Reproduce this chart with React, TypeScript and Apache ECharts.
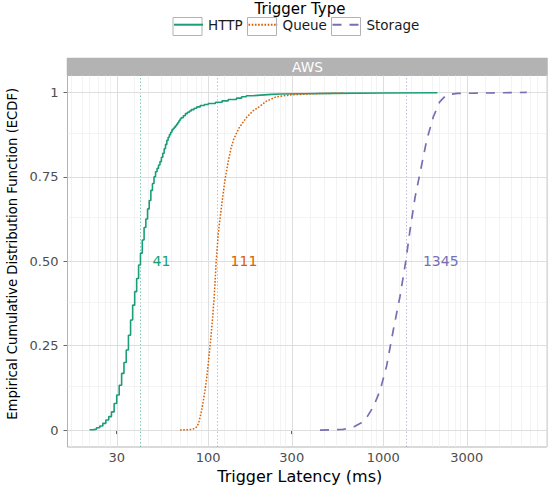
import React, { useEffect, useRef } from "react";
import * as echarts from "echarts";

const FONT = "DejaVu Sans";

const seriesNames = ["HTTP", "Queue", "Storage"];
const seriesColors = ["#1B9E77", "#D95F02", "#7570B3"];
const medianLineColors = ["rgba(27,158,119,0.55)", "rgba(217,95,2,0.45)", "rgba(117,112,179,0.45)"];

// HTTP trigger latency (ms) and ECDF
const httpLatency = [
  21, 22, 23, 24, 25, 26, 27, 28, 29, 30, 31, 32, 33, 34, 35, 36, 37, 38, 39, 40,
  41, 42, 43, 44, 45, 46, 47, 48, 49, 50, 51, 52, 53, 54, 55, 56, 57, 58, 59, 60,
  61, 62, 63, 64, 65, 66, 67, 68, 69, 70, 72, 74, 76, 78, 80, 83, 86, 90, 95, 100,
  110, 120, 130, 145, 155, 165, 180, 200, 230, 260, 350, 500, 1000, 2040,
];
const httpEcdf = [
  0.001, 0.003, 0.007, 0.012, 0.02, 0.03, 0.04, 0.054, 0.079, 0.104, 0.133, 0.168, 0.2, 0.237, 0.281, 0.326, 0.37, 0.41, 0.449, 0.489,
  0.524, 0.563, 0.6, 0.625, 0.655, 0.68, 0.71, 0.73, 0.75, 0.765, 0.775, 0.785, 0.795, 0.808, 0.82, 0.833, 0.846, 0.858, 0.867, 0.875,
  0.882, 0.889, 0.893, 0.897, 0.901, 0.906, 0.911, 0.916, 0.921, 0.925, 0.931, 0.937, 0.941, 0.945, 0.949, 0.953, 0.957, 0.961, 0.964, 0.967,
  0.971, 0.975, 0.979, 0.983, 0.987, 0.99, 0.992, 0.994, 0.995, 0.996, 0.997, 0.998, 0.999, 1,
];

// Queue trigger latency (ms) and ECDF
const queueLatency = [
  69, 80, 84, 86, 88, 90, 92, 94, 96, 98, 100, 102, 104, 106, 108, 110, 111, 112, 114, 116,
  119, 122, 125, 130, 135, 140, 150, 165, 180, 195, 215, 245, 300, 400, 600,
];
const queueEcdf = [
  0, 0.002, 0.005, 0.01, 0.02, 0.04, 0.062, 0.09, 0.12, 0.155, 0.197, 0.24, 0.285, 0.335, 0.39, 0.46, 0.5, 0.525, 0.58, 0.615,
  0.66, 0.705, 0.745, 0.795, 0.835, 0.862, 0.895, 0.925, 0.945, 0.957, 0.974, 0.987, 0.993, 0.996, 0.998,
];

// Storage trigger latency (ms) and ECDF
const storageLatency = [
  435, 590, 680, 750, 810, 880, 960, 1045, 1140, 1245, 1345, 1420, 1520, 1620, 1770, 1930, 2100, 2300, 2650, 6600,
];
const storageEcdf = [
  0, 0.002, 0.01, 0.022, 0.04, 0.07, 0.118, 0.19, 0.295, 0.395, 0.5, 0.59, 0.69, 0.76, 0.858, 0.927, 0.972, 0.993, 0.997, 1,
];

const medians = [41, 111, 1345];
const medianLabelX = [54, 160, 2130];
const medianLabelY = 0.5;

const xTicks = [30, 100, 300, 1000, 3000];
const xTickLabels = ["30", "100", "300", "1000", "3000"];
// break sequence used for the minor grid (8 evenly spaced minor lines between consecutive breaks)
const xGridBreaks = [10, 30, 100, 300, 1000, 3000, 10000];
const minorPerInterval = 8;
const xRange = [15.7, 8620];

const yTicks = [0, 0.25, 0.5, 0.75, 1];
const yTickLabels = ["0", "0.25", "0.50", "0.75", "1"];
const yMinorGrid = [0.125, 0.375, 0.625, 0.875];
const yRange = [-0.05, 1.05];

const legendTitle = "Trigger Type";
const facetLabel = "AWS";
const xTitle = "Trigger Latency (ms)";
const yTitle = "Empirical Cumulative Distribution Function (ECDF)";

const lg = (v: number) => Math.log10(v);

export default function App() {
  const ref = useRef<HTMLDivElement>(null);
  useEffect(() => {
    if (!ref.current) return;
    const chart = echarts.init(ref.current, undefined, { renderer: "svg" });

    const latencies = [httpLatency, queueLatency, storageLatency];
    const ecdfs = [httpEcdf, queueEcdf, storageEcdf];
    const lineStyles: any[] = [
      { width: 1.6, type: "solid" },
      { width: 1.5, type: [1.6, 1.6] },
      { width: 1.7, type: [9, 8] },
    ];

    const xMinorGrid: number[] = [];
    for (let k = 0; k < xGridBreaks.length - 1; k++) {
      const a = xGridBreaks[k];
      const b = xGridBreaks[k + 1];
      for (let m = 1; m <= minorPerInterval; m++) {
        const v = a + ((b - a) * m) / (minorPerInterval + 1);
        if (v > xRange[0] && v < xRange[1]) xMinorGrid.push(v);
      }
    }

    const dataSeries = seriesNames.map((name, i) => ({
      name,
      type: "line",
      z: 5,
      step: i === 0 ? "end" : false,
      showSymbol: false,
      symbol: "none",
      color: seriesColors[i],
      lineStyle: { color: seriesColors[i], ...lineStyles[i] },
      data: latencies[i].map((v, j) => [lg(v), ecdfs[i][j]]),
      markLine: {
        silent: true,
        symbol: ["none", "none"],
        z: 3,
        label: { show: false },
        lineStyle: { color: medianLineColors[i], width: 1, type: [1.5, 2] },
        data: [{ xAxis: lg(medians[i]) }],
      },
      markPoint: {
        silent: true,
        symbol: "circle",
        symbolSize: 0,
        label: {
          show: true,
          position: "inside",
          formatter: String(medians[i]),
          color: seriesColors[i],
          fontSize: 14,
          fontFamily: FONT,
        },
        data: [{ coord: [lg(medianLabelX[i]), medianLabelY], value: medians[i] }],
      },
    }));

    const gridSeries = [
      {
        name: "minorGrid",
        type: "line",
        z: 1,
        silent: true,
        data: [],
        markLine: {
          silent: true,
          symbol: ["none", "none"],
          label: { show: false },
          lineStyle: { color: "#EEEEEE", width: 0.7, type: "solid" },
          data: [
            ...xMinorGrid.map((v) => ({ xAxis: lg(v) })),
            ...yMinorGrid.map((v) => ({ yAxis: v })),
          ],
        },
      },
      {
        name: "majorGrid",
        type: "line",
        z: 2,
        silent: true,
        data: [],
        markLine: {
          silent: true,
          symbol: ["none", "none"],
          label: { show: false },
          lineStyle: { color: "#DEDEDE", width: 1, type: "solid" },
          data: [
            ...xTicks.map((v) => ({ xAxis: lg(v) })),
            ...yTicks.map((v) => ({ yAxis: v })),
          ],
        },
      },
    ];

    const nearestLabel = (val: number, vals: number[], labels: string[]) => {
      let best = 0;
      for (let k = 1; k < vals.length; k++) {
        if (Math.abs(vals[k] - val) < Math.abs(vals[best] - val)) best = k;
      }
      return labels[best];
    };

    const legendLeft = [173, 247.5, 331.5];
    const legends = seriesNames.map((name, i) => ({
      data: [name],
      left: legendLeft[i],
      top: 17.5,
      padding: 0,
      itemWidth: 29,
      itemHeight: 18,
      selectedMode: false,
      itemStyle: { opacity: 0 },
      textStyle: { fontSize: 13.5, lineHeight: 14, color: "#1a1a1a", fontFamily: FONT },
    }));

    const option: any = {
      animation: false,
      backgroundColor: "#ffffff",
      textStyle: { fontFamily: FONT },
      legend: legends,
      grid: {
        left: 67.5,
        right: 2,
        top: 75.5,
        bottom: 41,
        show: true,
        backgroundColor: "#ffffff",
        borderColor: "#B3B3B3",
        borderWidth: 1,
        containLabel: false,
        outerBoundsMode: "none",
      },
      xAxis: {
        type: "value",
        min: lg(xRange[0]),
        max: lg(xRange[1]),
        name: xTitle,
        nameLocation: "middle",
        nameGap: 17,
        nameTextStyle: { fontSize: 16, color: "#000", fontFamily: FONT, padding: [0, 15, 0, 0] },
        axisLine: { show: false },
        splitLine: { show: false },
        axisTick: {
          show: true,
          length: 4,
          customValues: xTicks.map(lg),
          lineStyle: { color: "#666" },
        },
        axisLabel: {
          show: true,
          margin: 4,
          customValues: xTicks.map(lg),
          formatter: (val: number) => nearestLabel(val, xTicks.map(lg), xTickLabels),
          color: "#4D4D4D",
          fontSize: 13,
          fontFamily: FONT,
        },
      },
      yAxis: {
        type: "value",
        min: yRange[0],
        max: yRange[1],
        name: yTitle,
        nameLocation: "middle",
        nameGap: 39,
        nameTextStyle: { fontSize: 13.2, color: "#000", fontFamily: FONT, padding: [0, 0, 0, 15] },
        axisLine: { show: false },
        splitLine: { show: false },
        axisTick: {
          show: true,
          length: 4,
          customValues: yTicks,
          lineStyle: { color: "#666" },
        },
        axisLabel: {
          show: true,
          margin: 9,
          customValues: yTicks,
          formatter: (val: number) => nearestLabel(val, yTicks, yTickLabels),
          color: "#4D4D4D",
          fontSize: 13,
          fontFamily: FONT,
        },
      },
      graphic: [
        ...legendLeft.map((l) => ({
          type: "rect",
          z: 0,
          shape: { x: l, y: 17.5, width: 29, height: 18 },
          style: { fill: "#ffffff", stroke: "#B3B3B3", lineWidth: 1 },
        })),
        {
          type: "text",
          z: 1,
          x: 300,
          y: 8.5,
          style: {
            text: legendTitle,
            fill: "#000000",
            fontSize: 15,
            lineHeight: 16,
            fontFamily: FONT,
            align: "center",
            verticalAlign: "middle",
          },
        },
        {
          type: "rect",
          z: 0,
          shape: { x: 67, y: 58, width: 480.5, height: 17.5 },
          style: { fill: "#B3B3B3", stroke: "#B3B3B3", lineWidth: 0.5 },
        },
        {
          type: "text",
          z: 1,
          x: 307.5,
          y: 66.8,
          style: {
            text: facetLabel,
            fill: "#ffffff",
            fontSize: 13.7,
            fontFamily: FONT,
            align: "center",
            verticalAlign: "middle",
          },
        },
      ],
      series: [...gridSeries, ...dataSeries],
    };

    chart.setOption(option);
    return () => chart.dispose();
  }, []);

  return <div ref={ref} style={{ position: "absolute", left: 0, top: 0, width: 549, height: 488 }} />;
}
